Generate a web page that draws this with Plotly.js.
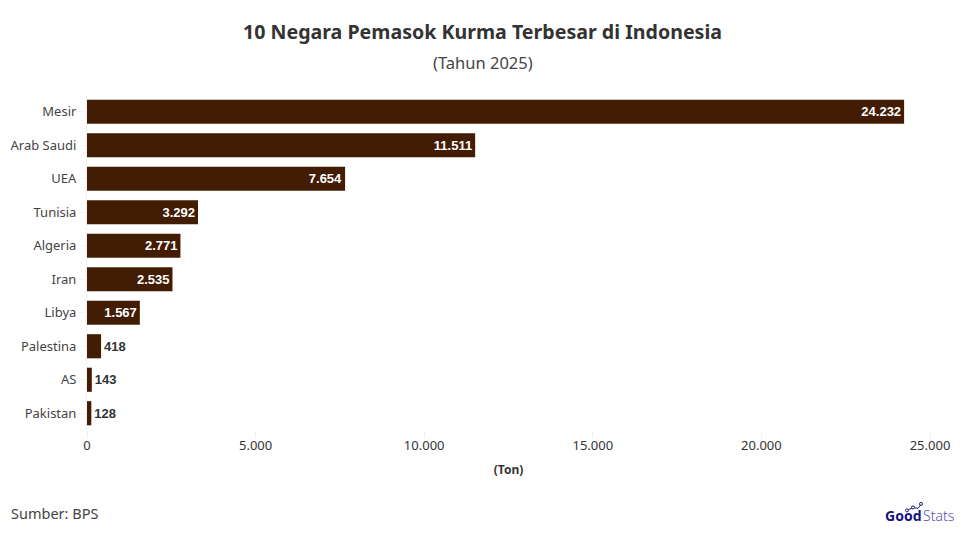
<!DOCTYPE html>
<html><head><meta charset="utf-8"><script src="https://cdn.plot.ly/plotly-3.0.1.min.js"></script>
<style>html,body{margin:0;padding:0;background:#fff}</style></head><body><div id="c" style="width:965px;height:535px"></div>
<script>
const categories=["Mesir","Arab Saudi","UEA","Tunisia","Algeria","Iran","Libya","Palestina","AS","Pakistan"];
const values=[24232,11511,7654,3292,2771,2535,1567,418,143,128];
const valueLabels=["24.232","11.511","7.654","3.292","2.771","2.535","1.567","418","143","128"];
const tickVals=[0,5000,10000,15000,20000,25000];
const tickText=["0","5.000","10.000","15.000","20.000","25.000"];
const px=x=>(x-87)/843, py=y=>(430.5-y)/335.5;
Plotly.newPlot("c",[{type:"bar",orientation:"h",y:categories,x:values,marker:{color:"#431C04"},width:0.72,
text:valueLabels,textposition:values.map(v=>v>1000?"inside":"outside"),insidetextanchor:"end",cliponaxis:false,
insidetextfont:{family:"Liberation Sans",size:13,color:"#fff",weight:700},
outsidetextfont:{family:"Liberation Sans",size:13,color:"#333",weight:700},textangle:0,hoverinfo:"skip"}],
{width:965,height:535,margin:{l:87,r:35,t:95,b:104.5},paper_bgcolor:"#fff",plot_bgcolor:"#fff",showlegend:false,
xaxis:{range:[0,25000],tickvals:tickVals,ticktext:tickText,showgrid:false,zeroline:false,showline:false,ticks:"outside",ticklen:7,tickcolor:"#f2f2f2",ticklabelstandoff:-4,tickfont:{family:"Noto Sans",size:13,color:"#333"},
title:{text:"<b>(Ton)</b>",font:{family:"Noto Sans",size:12,color:"#333"},standoff:13}},
yaxis:{autorange:"reversed",showgrid:false,zeroline:false,showline:true,linecolor:"#f2f2f2",linewidth:1,ticks:"outside",ticklen:7,tickcolor:"#f2f2f2",tickfont:{family:"Noto Sans",size:13,color:"#444"},automargin:false},
shapes:[
{type:"path",xref:"paper",yref:"paper",path:`M ${px(907)} ${py(511)} L ${px(913)} ${py(508)} L ${px(918)} ${py(509)} L ${px(921)} ${py(505)}`,line:{color:"#1d1a7a",width:1}},
{type:"circle",xref:"paper",yref:"paper",x0:px(905.5),x1:px(908.5),y0:py(509.5),y1:py(512.5),line:{color:"#1d1a7a",width:1},fillcolor:"#fff"},
{type:"circle",xref:"paper",yref:"paper",x0:px(911.5),x1:px(914.5),y0:py(506.5),y1:py(509.5),line:{color:"#1d1a7a",width:1},fillcolor:"#fff"},
{type:"circle",xref:"paper",yref:"paper",x0:px(919.5),x1:px(922.5),y0:py(503),y1:py(506),line:{color:"#1d1a7a",width:1},fillcolor:"#fff"}
],
annotations:[
{text:"<b>10 Negara Pemasok Kurma Terbesar di Indonesia</b>",xref:"paper",yref:"paper",x:px(482.5),y:py(31),xanchor:"center",yanchor:"middle",showarrow:false,font:{family:"Noto Sans",size:19.6,color:"#333"}},
{text:"(Tahun 2025)",xref:"paper",yref:"paper",x:px(482.5),y:py(62),xanchor:"center",yanchor:"middle",showarrow:false,font:{family:"Noto Sans",size:16.5,color:"#444"}},
{text:"Sumber: BPS",xref:"paper",yref:"paper",x:px(11),y:py(514),xanchor:"left",yanchor:"middle",xshift:-2,showarrow:false,font:{family:"Noto Sans",size:14.5,color:"#444"}},
{text:"<b>Good</b>",xref:"paper",yref:"paper",x:px(923),y:py(516),xanchor:"right",yanchor:"middle",showarrow:false,font:{family:"Noto Sans",size:14,color:"#14147a"}},
{text:"Stats",xref:"paper",yref:"paper",x:px(921),y:py(516),xanchor:"left",yanchor:"middle",showarrow:false,font:{family:"Noto Sans",size:14,color:"#5a50b8",weight:300}}
]},{displayModeBar:false,staticPlot:true});
</script></body></html>
